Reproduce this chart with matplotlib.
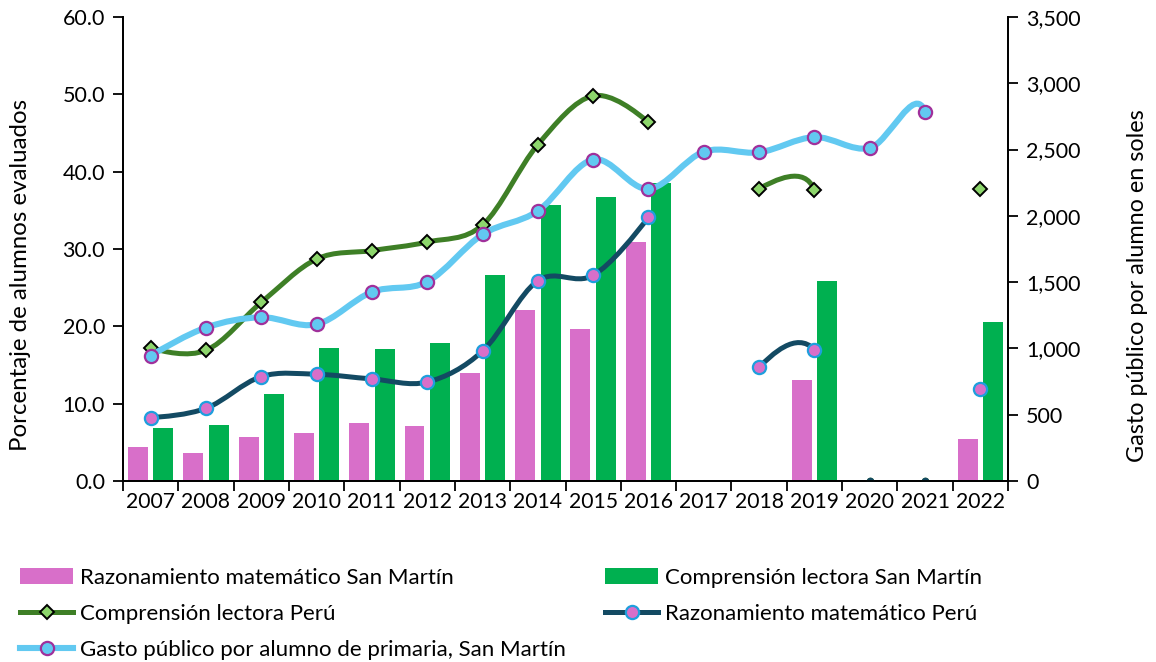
import matplotlib
matplotlib.use("Agg")
import matplotlib.pyplot as plt
import numpy as np
from matplotlib.path import Path
from matplotlib.patches import PathPatch, Patch
from matplotlib.lines import Line2D
from matplotlib.ticker import FixedLocator, FuncFormatter, NullFormatter

# ---------------- data ----------------
years = ["2007", "2008", "2009", "2010", "2011", "2012", "2013", "2014",
         "2015", "2016", "2017", "2018", "2019", "2020", "2021", "2022"]
# None = empty cell; 0.0 = cell with zero (not evaluated), kept by the source
rm_san_martin = [4.4, 3.6, 5.7, 6.2, 7.5, 7.1, 14.0, 22.1, 19.7, 30.9,
                 None, None, 13.1, None, None, 5.4]
cl_san_martin = [6.9, 7.2, 11.2, 17.2, 17.1, 17.8, 26.7, 35.7, 36.7, 38.5,
                 None, None, 25.8, None, None, 20.6]
cl_peru = [17.2, 16.9, 23.1, 28.7, 29.8, 30.9, 33.1, 43.5, 49.8, 46.4,
           None, 37.8, 37.6, 0.0, 0.0, 37.7]
rm_peru = [8.2, 9.4, 13.5, 13.8, 13.2, 12.8, 16.8, 25.9, 26.6, 34.1,
           None, 14.7, 17.0, 0.0, 0.0, 11.9]
gasto = [945, 1157, 1235, 1182, 1426, 1503, 1860, 2037, 2425, 2203,
         2484, 2479, 2594, 2512, 2781, 0.0]

labels = ["Razonamiento matemático San Martín", "Comprensión lectora San Martín",
          "Comprensión lectora Perú", "Razonamiento matemático Perú",
          "Gasto público por alumno de primaria, San Martín"]

# ---------------- style ----------------
FONT = "Lato"
plt.rcParams["font.family"] = [FONT, "DejaVu Sans"]
PINK = "#D86FC9"
GREEN = "#00B050"
CL_LINE = "#3E7F26"
CL_MARK = "#8DD66C"
RM_LINE = "#134A63"
RM_EDGE = "#1E9FDD"
G_LINE = "#62C9F1"
G_EDGE = "#A0309B"

W, H = 1156, 662
fig = plt.figure(figsize=(W / 100, H / 100), dpi=100)
L, R, B, T = 123, 1008, 481, 17
ax = fig.add_axes([L / W, 1 - B / H, (R - L) / W, (B - T) / H])
ax2 = ax.twinx()

x = np.arange(len(years))
ax.set_xlim(-0.5, len(years) - 0.5)
ax.set_ylim(0, 60)
ax2.set_ylim(0, 3500)


def arr(v):
    return np.array([np.nan if a is None else a for a in v], dtype=float)


# bars
bw = 0.36
ax.bar(x - 0.23, arr(rm_san_martin), width=bw, color=PINK, zorder=2, linewidth=0)
ax.bar(x + 0.23, arr(cl_san_martin), width=bw, color=GREEN, zorder=2, linewidth=0)


def smooth_path(axis, xs, ys):
    """Excel-like smoothed line built as cubic Bezier path in display space."""
    tr = axis.transData
    inv = tr.inverted()
    n = len(ys)
    pts = {i: np.array(tr.transform((xs[i], v))) for i, v in enumerate(ys) if v is not None}

    def vis(i):
        return 0 <= i < n and ys[i] is not None and ys[i] != 0

    verts, codes = [], []
    prev_connected = False
    for i in range(n - 1):
        if not (vis(i) and vis(i + 1)):
            prev_connected = False
            continue
        P1, P2 = pts[i], pts[i + 1]
        P0 = pts.get(i - 1) if i - 1 >= 0 else None
        P3 = pts.get(i + 2) if i + 2 < n else None
        lmax = 0.5 * np.linalg.norm(P2 - P1)

        def ctrl(base, vec):
            v = vec / 6.0
            ln = np.linalg.norm(v)
            if ln > lmax and ln > 0:
                v = v * lmax / ln
            return base + v

        c1 = ctrl(P1, P2 - P0) if P0 is not None else None
        c2 = ctrl(P2, -(P3 - P1)) if P3 is not None else None
        if c1 is None and c2 is None:
            c1 = P1 + (P2 - P1) / 3
            c2 = P2 - (P2 - P1) / 3
        elif c1 is None:
            c1 = P1 + (c2 - P1) / 3
        elif c2 is None:
            c2 = P2 + (c1 - P2) / 3
        if not prev_connected:
            verts.append(inv.transform(P1))
            codes.append(Path.MOVETO)
        for p in (c1, c2, P2):
            verts.append(inv.transform(p))
            codes.append(Path.CURVE4)
        prev_connected = True
    return Path(verts, codes)


def draw_series(axis, ys, lc, lw, marker, ms, mfc, mec, mew, z, zero_dot=False):
    patch = PathPatch(smooth_path(axis, x, ys), facecolor="none", edgecolor=lc,
                      linewidth=lw, zorder=z, capstyle="round", joinstyle="round")
    axis.add_patch(patch)
    v = np.array([np.nan if (a is None or a == 0) else a for a in ys], dtype=float)
    axis.plot(x, v, linestyle="none", marker=marker, markersize=ms,
              markerfacecolor=mfc, markeredgecolor=mec, markeredgewidth=mew, zorder=z + 1)
    if zero_dot:
        z0 = np.array([0.0 if a == 0 else np.nan for a in ys])
        axis.plot(x, z0, linestyle="none", marker="o", markersize=4.5,
                  color=lc, zorder=z + 1, clip_on=True)


fig.canvas.draw()
draw_series(ax, cl_peru, CL_LINE, 3.6, "D", 7.5, CL_MARK, "black", 1.4, 3, zero_dot=True)
draw_series(ax, rm_peru, RM_LINE, 3.6, "o", 9.5, PINK, RM_EDGE, 1.6, 5, zero_dot=True)
draw_series(ax2, gasto, G_LINE, 4.4, "o", 9.5, G_LINE, G_EDGE, 1.6, 3)

# ---------------- axes styling ----------------
for a in (ax, ax2):
    a.spines["top"].set_visible(False)
    for s in ("left", "right", "bottom"):
        a.spines[s].set_linewidth(1.3)
        a.spines[s].set_color("black")

TICK_FS = 15.2
ax.xaxis.set_major_locator(FixedLocator(np.arange(-0.5, len(years), 1.0)))
ax.xaxis.set_major_formatter(NullFormatter())
ax.xaxis.set_minor_locator(FixedLocator(x))
ax.set_xticklabels(years, minor=True)
ax.tick_params(axis="x", which="major", direction="out", length=7, width=1.3)
ax.tick_params(axis="x", which="minor", length=0, labelsize=TICK_FS, pad=8)

ax.set_yticks(np.arange(0, 61, 10))
ax.yaxis.set_major_formatter(FuncFormatter(lambda v, p: f"{v:.1f}"))
ax.tick_params(axis="y", direction="out", length=7, width=1.3, labelsize=15.5, pad=6)
ax2.set_yticks(np.arange(0, 3501, 500))
ax2.yaxis.set_major_formatter(FuncFormatter(lambda v, p: f"{v:,.0f}"))
ax2.tick_params(axis="y", direction="out", length=7, width=1.3, labelsize=15.5, pad=6)

ax.set_ylabel("Porcentaje de alumnos evaluados", fontsize=17.3)
ax2.set_ylabel("Gasto público por alumno en soles", fontsize=16.8)
ax.yaxis.set_label_coords((20 - L) / (R - L), (B - 274.5) / (B - T))
ax2.yaxis.set_label_coords((1138 - L) / (R - L), (B - 286) / (B - T))
ax.yaxis.label.set_va("center")
ax2.yaxis.label.set_va("center")

# ---------------- legend ----------------
h_pink = Patch(facecolor=PINK, edgecolor="none")
h_green = Patch(facecolor=GREEN, edgecolor="none")
h_cl = Line2D([], [], color=CL_LINE, lw=3.6, marker="D", ms=7.5, mfc=CL_MARK, mec="black", mew=1.4)
h_rm = Line2D([], [], color=RM_LINE, lw=3.6, marker="o", ms=9.5, mfc=PINK, mec=RM_EDGE, mew=1.6)
h_g = Line2D([], [], color=G_LINE, lw=4.4, marker="o", ms=9.5, mfc=G_LINE, mec=G_EDGE, mew=1.6)

common = dict(frameon=False, fontsize=16, handlelength=2.4, handleheight=0.72,
              handletextpad=0.32, labelspacing=0.72, borderaxespad=0, borderpad=0)
fig.legend([h_pink, h_cl, h_g], [labels[0], labels[2], labels[4]],
           loc="upper left", bbox_to_anchor=(20 / W, 1 - 568 / H), **common)
fig.legend([h_green, h_rm], [labels[1], labels[3]],
           loc="upper left", bbox_to_anchor=(605 / W, 1 - 568 / H), **common)

fig.savefig("out.png", dpi=100)
